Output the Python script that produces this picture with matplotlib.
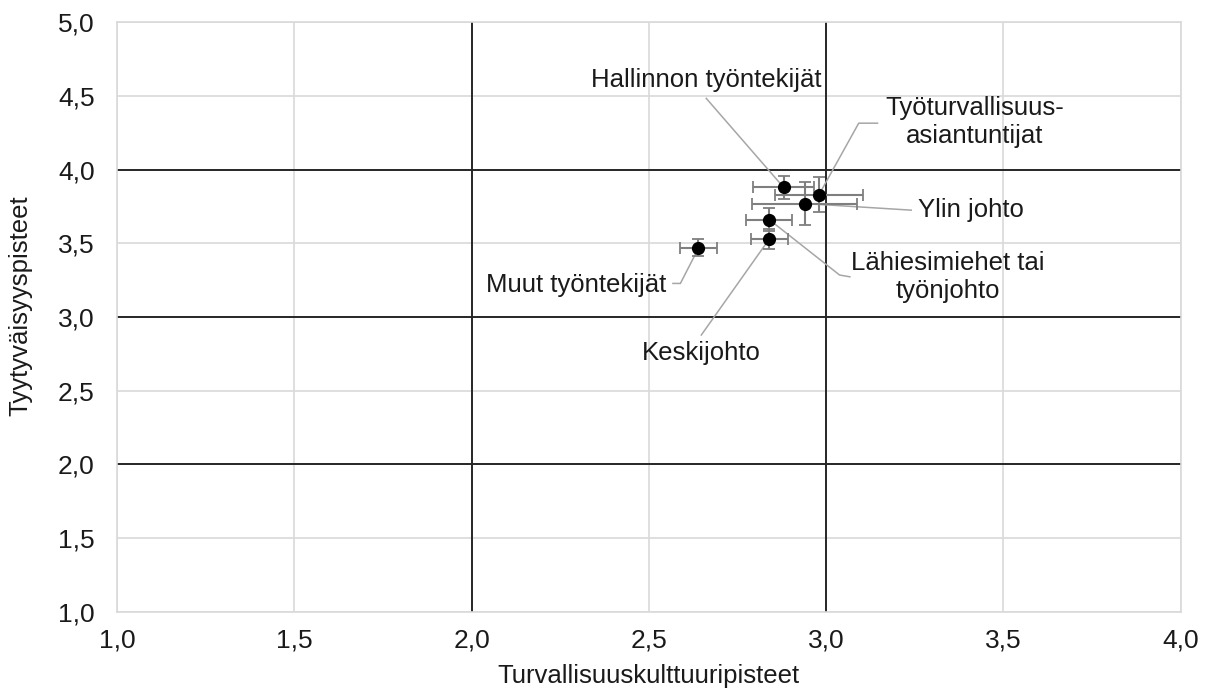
import matplotlib.pyplot as plt

plt.rcParams['font.family'] = ['Liberation Sans', 'DejaVu Sans']

# Group means and error bars
groups = ['Hallinnon työntekijät', 'Työturvallisuus-\nasiantuntijat', 'Ylin johto',
          'Lähiesimiehet tai\ntyönjohto', 'Keskijohto', 'Muut työntekijät']
culture = [2.88, 2.98, 2.94, 2.84, 2.84, 2.64]
satisfaction = [3.88, 3.83, 3.77, 3.66, 3.53, 3.47]
culture_err = [0.086, 0.124, 0.148, 0.065, 0.052, 0.053]
satisfaction_err = [0.08, 0.12, 0.143, 0.077, 0.07, 0.059]

# label positions (data coords) and leader line bend points
label_pos = [(2.662, 4.607), (3.42, 4.322), (3.408, 3.725),
             (3.343, 3.271), (2.647, 2.754), (2.294, 3.217)]
leader_pts = [
    [(2.662, 4.483)],
    [(3.145, 4.315), (3.092, 4.315)],
    [(3.24, 3.725)],
    [(3.067, 3.273), (3.038, 3.285)],
    [(2.648, 2.878)],
    [(2.568, 3.228), (2.589, 3.228), (2.63, 3.42)],
]

ticks = [1.0, 1.5, 2.0, 2.5, 3.0, 3.5, 4.0]
yticks = [1.0, 1.5, 2.0, 2.5, 3.0, 3.5, 4.0, 4.5, 5.0]

fig = plt.figure(figsize=(12.06, 6.93), dpi=100)
ax = fig.add_axes([0.097, 0.117, 0.882, 0.851])

ax.set_xlim(1, 4)
ax.set_ylim(1, 5)
ax.set_xticks(ticks)
ax.set_yticks(yticks)
ax.set_xticklabels([f'{t:.1f}'.replace('.', ',') for t in ticks])
ax.set_yticklabels([f'{t:.1f}'.replace('.', ',') for t in yticks])
ax.tick_params(length=0, labelsize=19, colors='#1a1a1a')
ax.tick_params(axis='y', pad=16)
ax.tick_params(axis='x', pad=12)
ax.grid(True, color='#d9d9d9', linewidth=1.2)
ax.set_axisbelow(True)
for s in ax.spines.values():
    s.set_color('#d9d9d9')
    s.set_linewidth(1.2)

# quadrant lines
for v in [2.0, 3.0]:
    ax.axvline(v, color='#262626', linewidth=1.4, zorder=1)
for h in [2.0, 3.0, 4.0]:
    ax.axhline(h, color='#262626', linewidth=1.4, zorder=1)

# leader lines
for i in range(len(groups)):
    pts = [(culture[i], satisfaction[i])] + leader_pts[i][::-1]
    xs = [p[0] for p in pts]
    ys = [p[1] for p in pts]
    ax.plot(xs, ys, color='#a6a6a6', linewidth=1.1, zorder=2)

ax.errorbar(culture, satisfaction, xerr=culture_err, yerr=satisfaction_err,
            fmt='o', color='black', markersize=8.5, ecolor='#7f7f7f',
            elinewidth=1.5, capsize=4, capthick=1.3, zorder=4)

for i, g in enumerate(groups):
    ax.text(label_pos[i][0], label_pos[i][1], g, ha='center', va='center',
            fontsize=18.5, color='#1a1a1a', linespacing=1.2, zorder=5)

ax.set_xlabel('Turvallisuuskulttuuripisteet', fontsize=18.5, color='#1a1a1a', labelpad=8)
ax.set_ylabel('Tyytyväisyyspisteet', fontsize=18.5, color='#1a1a1a')
ax.yaxis.set_label_coords(-0.08, 0.519)

fig.savefig('out.png', dpi=100)
